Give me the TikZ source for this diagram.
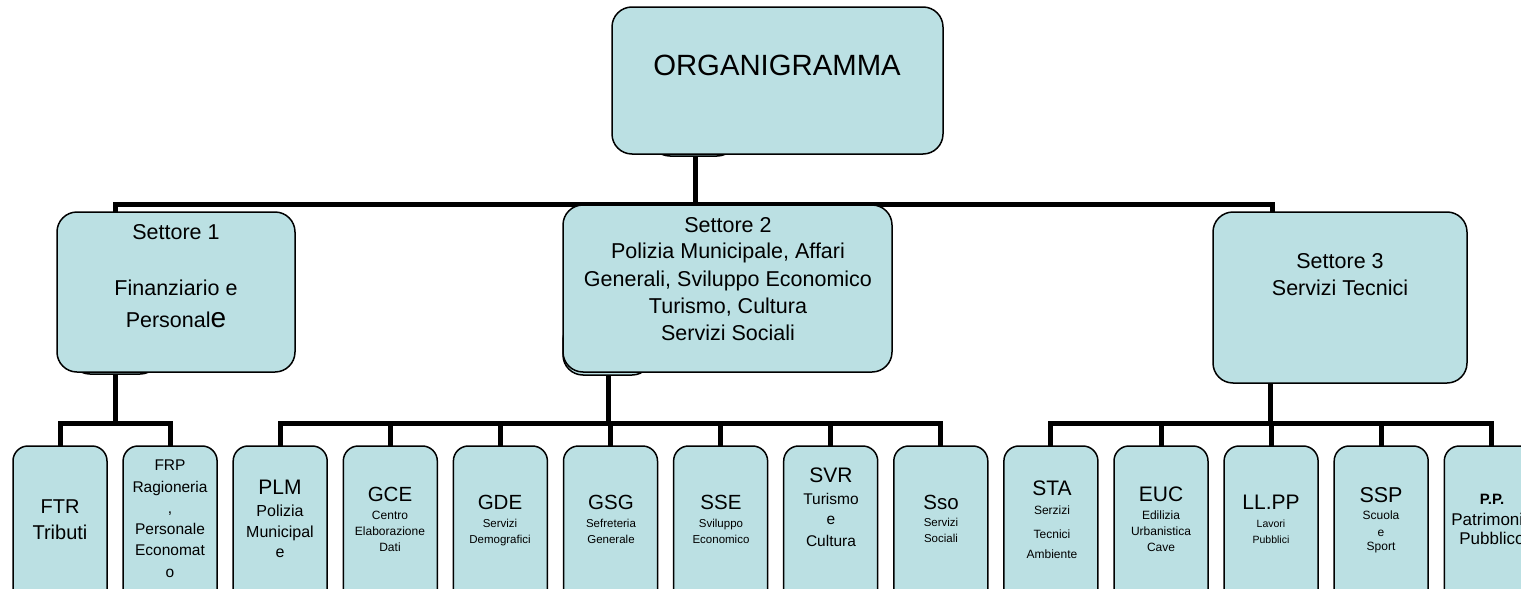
\documentclass[tikz,border=0pt]{standalone}
\usepackage{fontspec}
\setmainfont{Liberation Sans}
\usetikzlibrary{backgrounds}
\definecolor{boxfill}{RGB}{187,224,227}
\newcommand\myfs[1]{\fontsize{#1}{#1}\selectfont}
\tikzset{
  unitbox/.style={draw=black, line width=1.5pt, fill=boxfill, rounded corners=#1, inner sep=0pt, outer sep=0pt},
  bigbox/.style={unitbox=20pt},
  leaf/.style={unitbox=15pt, minimum width=94pt, minimum height=164pt},
  conn/.style={draw=black, line width=5pt, line cap=rect, line join=miter},
  txt/.style={anchor=base, inner sep=0pt, outer sep=0pt, text=black},
}
\begin{document}
\begin{tikzpicture}[x=1pt,y=-1pt]
\useasboundingbox (0,0) rectangle (1521,589);

% hidden boxes behind the main ones
\node[bigbox, minimum width=87pt, minimum height=46pt] (h0) at (693.5,133) {};
\node[bigbox, minimum width=90pt, minimum height=44pt] (h1) at (115,352) {};
\node[bigbox, minimum width=89pt, minimum height=55pt] (h2) at (607.5,347.5) {};

% main boxes
\node[bigbox, minimum width=331pt, minimum height=147pt] (org) at (777.5,80.5) {};
\node[bigbox, minimum width=238pt, minimum height=160pt] (s1) at (176,292) {};
\node[bigbox, minimum width=329pt, minimum height=167pt] (s2) at (727.5,288.5) {};
\node[bigbox, minimum width=254pt, minimum height=171pt] (s3) at (1340,297.5) {};

\foreach \n [count=\i from 0] in {ftr,frp,plm,gce,gde,gsg,sse,svr,sso,sta,euc,llpp,ssp,pp}
  \node[leaf] (\n) at ({60+110.1*\i},528) {};

% connectors
\coordinate (j0) at (695,204);
\coordinate (j1) at (115,204);
\coordinate (j3) at (1272,204);
\coordinate (k1) at (115,423);
\coordinate (k2) at (608,423);
\coordinate (k3) at (1270,423);
\begin{pgfonlayer}{background}
\draw[conn] (org.south -| j0) -- (j0);
\draw[conn] (s1.north -| j1) -- (j1) -- (j3) -- (s3.north -| j3);
\draw[conn] (s1.south -| k1) -- (k1);
\draw[conn] (ftr.north) -- (ftr.north |- k1) -- (frp.north |- k1) -- (frp.north);
\draw[conn] (s2.south -| k2) -- (k2);
\draw[conn] (plm.north |- k2) -- (sso.north |- k2);
\foreach \n in {plm,gce,gde,gsg,sse,svr,sso}
  \draw[conn] (\n.north) -- (\n.north |- k2);
\draw[conn] (s3.south -| k3) -- (k3);
\draw[conn] (sta.north |- k3) -- (pp.north |- k3);
\foreach \n in {sta,euc,llpp,ssp,pp}
  \draw[conn] (\n.north) -- (\n.north |- k3);
\end{pgfonlayer}

% texts
\node[txt, font=\myfs{29.3}] (t-org) at (777,75) {ORGANIGRAMMA};

\node[txt, font=\myfs{21.5}] (t-s1a) at (176,239) {Settore 1};
\node[txt, font=\myfs{21.5}] (t-s1b) at (176,295) {Finanziario e};
\node[txt, font=\myfs{21.5}] (t-s1c) at (176,327) {Personal{\myfs{28}e}};

\node[txt, font=\myfs{21.5}] (t-s2a) at (728,232) {Settore 2};
\node[txt, font=\myfs{21.5}] (t-s2b) at (728,258) {Polizia Municipale, Affari};
\node[txt, font=\myfs{21.5}] (t-s2c) at (728,286) {Generali, Sviluppo Economico};
\node[txt, font=\myfs{21.5}] (t-s2d) at (728,313) {Turismo, Cultura};
\node[txt, font=\myfs{21.5}] (t-s2e) at (728,340) {Servizi Sociali};

\node[txt, font=\myfs{21.5}] (t-s3a) at (1340,268) {Settore 3};
\node[txt, font=\myfs{21.5}] (t-s3b) at (1340,295) {Servizi Tecnici};

% leaves
\node[txt, font=\myfs{20}] (t-ftr1) at (60,513) {FTR};
\node[txt, font=\myfs{20}] (t-ftr2) at (60,539) {Tributi};

\node[txt, font=\myfs{15.5}] (t-frp1) at (170,470) {FRP};
\node[txt, font=\myfs{15.5}] (t-frp2) at (170,492) {Ragioneria};
\node[txt, font=\myfs{15.5}] (t-frp3) at (170,513) {,};
\node[txt, font=\myfs{15.5}] (t-frp4) at (170,534) {Personale};
\node[txt, font=\myfs{15.5}] (t-frp5) at (170,555) {Economat};
\node[txt, font=\myfs{15.5}] (t-frp6) at (170,577) {o};

\node[txt, font=\myfs{21}] (t-plm1) at (280,494) {PLM};
\node[txt, font=\myfs{16}] (t-plm2) at (280,516) {Polizia};
\node[txt, font=\myfs{16}] (t-plm3) at (280,537) {Municipal};
\node[txt, font=\myfs{16}] (t-plm4) at (280,557) {e};

\node[txt, font=\myfs{20.5}] (t-gce1) at (390,501) {GCE};
\node[txt, font=\myfs{12}] (t-gce2) at (390,519) {Centro};
\node[txt, font=\myfs{12}] (t-gce3) at (390,535) {Elaboraz\-ione};
\node[txt, font=\myfs{12}] (t-gce4) at (390,551) {Dati};

\node[txt, font=\myfs{20.5}] (t-gde1) at (500,509) {GDE};
\node[txt, font=\myfs{11.5}] (t-gde2) at (500,527) {Servizi};
\node[txt, font=\myfs{11.5}] (t-gde3) at (500,543) {Demografici};

\node[txt, font=\myfs{20.5}] (t-gsg1) at (611,509) {GSG};
\node[txt, font=\myfs{11.5}] (t-gsg2) at (611,527) {Sefreteria};
\node[txt, font=\myfs{11.5}] (t-gsg3) at (611,543) {Generale};

\node[txt, font=\myfs{20.5}] (t-sse1) at (721,509) {SSE};
\node[txt, font=\myfs{11.5}] (t-sse2) at (721,527) {Sviluppo};
\node[txt, font=\myfs{11.5}] (t-sse3) at (721,543) {Economico};

\node[txt, font=\myfs{21}] (t-svr1) at (831,482) {SVR};
\node[txt, font=\myfs{15.5}] (t-svr2) at (831,504) {Turismo};
\node[txt, font=\myfs{15.5}] (t-svr3) at (831,524) {e};
\node[txt, font=\myfs{15.5}] (t-svr4) at (831,546) {Cultura};

\node[txt, font=\myfs{20.5}] (t-sso1) at (941,509) {Sso};
\node[txt, font=\myfs{11.5}] (t-sso2) at (941,526) {Servizi};
\node[txt, font=\myfs{11.5}] (t-sso3) at (941,542) {Sociali};

\node[txt, font=\myfs{21}] (t-sta1) at (1052,495) {STA};
\node[txt, font=\myfs{12}] (t-sta2) at (1052,514) {Serzizi};
\node[txt, font=\myfs{12}] (t-sta3) at (1052,538) {Tecnici};
\node[txt, font=\myfs{12}] (t-sta4) at (1052,558) {Ambiente};

\node[txt, font=\myfs{21}] (t-euc1) at (1161,501) {EUC};
\node[txt, font=\myfs{12}] (t-euc2) at (1161,519) {Edilizia};
\node[txt, font=\myfs{12}] (t-euc3) at (1161,535) {Urbanistica};
\node[txt, font=\myfs{12}] (t-euc4) at (1161,551) {Cave};

\node[txt, font=\myfs{21}] (t-llpp1) at (1271,509) {LL.PP};
\node[txt, font=\myfs{10.5}] (t-llpp2) at (1271,527) {Lavori};
\node[txt, font=\myfs{10.5}] (t-llpp3) at (1271,543) {Pubblici};

\node[txt, font=\myfs{21.5}] (t-ssp1) at (1381,502) {SSP};
\node[txt, font=\myfs{12}] (t-ssp2) at (1381,519) {Scuola};
\node[txt, font=\myfs{12}] (t-ssp3) at (1381,536) {e};
\node[txt, font=\myfs{12}] (t-ssp4) at (1381,550) {Sport};

\node[txt, font=\myfs{15}\bfseries] (t-pp1) at (1492,504) {P.P.};
\node[txt, font=\myfs{17}] (t-pp2) at (1492,525) {Patrimonio};
\node[txt, font=\myfs{17}] (t-pp3) at (1492,544) {Pubblico};
\end{tikzpicture}
\end{document}
